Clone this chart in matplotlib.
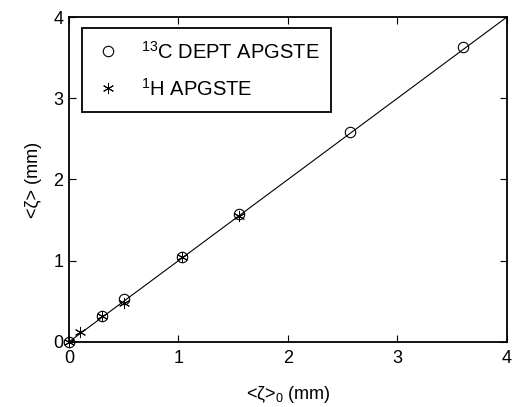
import matplotlib
matplotlib.use("Agg")
import matplotlib.pyplot as plt
import numpy as np

plt.rcParams['font.family'] = ['Liberation Sans', 'DejaVu Sans']
plt.rcParams['mathtext.fontset'] = 'custom'
plt.rcParams['mathtext.rm'] = 'Liberation Sans'

c13_x = [0.0, 0.3, 0.5, 1.03, 1.55, 2.57, 3.6]
c13_y = [0.0, 0.32, 0.53, 1.05, 1.57, 2.58, 3.63]
h1_x = [0.0, 0.1, 0.3, 0.5, 1.03, 1.55]
h1_y = [0.0, 0.12, 0.32, 0.48, 1.04, 1.55]
line_x = [0, 4]
line_y = [0, 4]
ticks = [0, 1, 2, 3, 4]

fig = plt.figure(figsize=(5.13, 4.07), dpi=100)
ax = fig.add_axes([0.1345, 0.16, 0.8535, 0.798])
ax.plot(line_x, line_y, color='black', lw=0.8)
ax.plot(c13_x, c13_y, 'o', mfc='none', mec='black', ms=7.5, mew=0.8, label=r'$^{13}$C DEPT APGSTE', clip_on=False)
ax.plot(h1_x, h1_y, marker=(6, 2, 0), ls='none', color='black', ms=8, mew=0.7, label=r'$^{1}$H APGSTE', clip_on=False)
ax.set_xlim(0, 4)
ax.set_ylim(0, 4)
ax.set_xticks(ticks)
ax.set_yticks(ticks)
ax.tick_params(direction='in', top=True, right=True, labelsize=13, length=5, width=0.8, pad=6)
ax.tick_params(axis='y', pad=4)
for s in ax.spines.values():
    s.set_linewidth(1.3)
ax.set_xlabel(r'<ζ>$_0$ (mm)', fontsize=13, labelpad=12)
ax.set_ylabel('<ζ> (mm)', fontsize=13, labelpad=8)
leg = ax.legend(loc='upper left', fontsize=14.5, fancybox=False, framealpha=1,
                edgecolor='black', borderpad=0.6, labelspacing=0.75,
                handletextpad=0.9, handlelength=1.4, borderaxespad=0,
                bbox_to_anchor=(0.03, 0.965))
leg.get_frame().set_linewidth(1.3)
fig.savefig('out.png', dpi=100)
